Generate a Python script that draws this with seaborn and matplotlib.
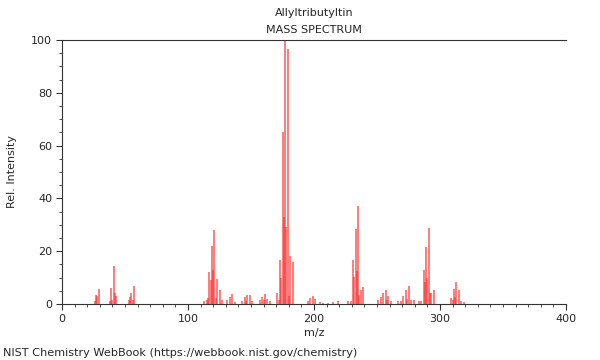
import matplotlib
matplotlib.use("Agg")
import matplotlib.pyplot as plt
from matplotlib.ticker import MultipleLocator
import seaborn as sns
import pandas as pd

# m/z values and relative intensities
mz = [26, 27, 28, 29,
      38, 39, 40, 41, 42, 43,
      53, 54, 55, 56, 57,
      113, 115, 116, 117, 118, 119, 120, 121, 122, 123, 125, 127,
      131, 133, 135, 137,
      143, 145, 146, 147, 149, 151,
      157, 159, 160, 161, 163, 165,
      171, 172, 173, 174, 175, 176, 177, 178, 179, 180, 181, 183,
      195, 197, 199, 201, 205, 207, 211, 215, 219,
      227, 229, 231, 232, 233, 234, 235, 236, 237, 239,
      251, 253, 255, 257, 258, 259, 261,
      267, 269, 271, 273, 274, 275, 277, 279,
      283, 285, 287, 288, 289, 290, 291, 292, 293, 295,
      309, 310, 311, 312, 313, 315, 317, 319]
intensity = [1.0, 3.5, 3.0, 5.6,
             1.0, 6.0, 1.5, 14.4, 4.0, 3.0,
             1.5, 2.8, 4.0, 1.5, 6.8,
             1.0, 1.5, 2.3, 12.0, 9.0, 22.0, 13.0, 28.0, 2.3, 9.5, 5.3, 1.5,
             1.5, 2.8, 3.8, 0.8,
             1.0, 2.5, 1.0, 3.5, 3.5, 1.0,
             1.5, 2.8, 1.5, 3.8, 2.0, 1.0,
             4.0, 1.5, 16.7, 9.8, 65.0, 33.0, 100.0, 29.0, 96.5, 3.0, 18.0, 16.0,
             1.0, 2.2, 3.0, 1.8, 0.6, 0.5, 0.5, 0.7, 1.1,
             1.0, 1.0, 16.7, 10.4, 28.3, 12.6, 37.0, 3.4, 5.3, 6.3,
             1.5, 2.5, 4.0, 5.3, 1.5, 3.2, 1.0,
             1.0, 1.2, 3.0, 5.3, 2.0, 7.0, 1.5, 1.5,
             1.2, 1.0, 12.9, 8.5, 21.7, 10.0, 28.7, 4.0, 4.0, 5.3,
             2.1, 1.5, 5.5, 2.5, 8.2, 5.3, 1.0, 0.7]

title = "Allyltributyltin"
subtitle = "MASS SPECTRUM"
xlabel = "m/z"
ylabel = "Rel. Intensity"
footer = "NIST Chemistry WebBook (https://webbook.nist.gov/chemistry)"

df = pd.DataFrame({"mz": mz, "intensity": intensity})

sns.set_theme(style="ticks")
plt.rcParams["font.family"] = ["DejaVu Sans"]

fig = plt.figure(figsize=(6, 3.6), dpi=100)
ax = fig.add_axes([62 / 600, 1 - 304 / 360, (566 - 62) / 600, (304 - 40) / 360])

ax.vlines(df["mz"], 0, df["intensity"], color="#ff3030", linewidth=1.1, alpha=0.8)

ax.set_xlim(0, 400)
ax.set_ylim(0, 100)
ax.xaxis.set_major_locator(MultipleLocator(100))
ax.xaxis.set_minor_locator(MultipleLocator(10))
ax.yaxis.set_major_locator(MultipleLocator(20))
ax.yaxis.set_minor_locator(MultipleLocator(5))
ax.tick_params(axis="both", which="major", labelsize=8, length=4, width=0.8, color="#333333", pad=3)
ax.tick_params(axis="both", which="minor", length=2, width=0.6, color="#333333")

sns.despine(ax=ax, top=False, right=True)
for s in ["left", "bottom", "top"]:
    ax.spines[s].set_linewidth(0.8)
    ax.spines[s].set_color("#333333")

ax.set_xlabel(xlabel, fontsize=8, labelpad=3)
ax.set_ylabel(ylabel, fontsize=8, labelpad=10)

fig.text(314 / 600, 1 - 13 / 360, title, ha="center", va="center", fontsize=8)
fig.text(314 / 600, 1 - 30 / 360, subtitle, ha="center", va="center", fontsize=8)
fig.text(3 / 600, 1 - 353 / 360, footer, ha="left", va="center", fontsize=8.15)

fig.savefig("out.png", dpi=100)
